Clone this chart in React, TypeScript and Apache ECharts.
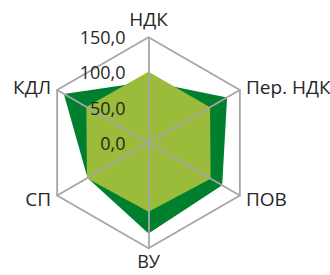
import React, { useEffect, useRef } from "react";
import * as echarts from "echarts";

// Categories listed clockwise starting at the top, as in the reference
const categories = ["НДК", "Пер. НДК", "ПОВ", "ВУ", "СП", "КДЛ"];
const seriesDark = [87, 129, 121, 129, 100, 139];
const seriesLight = [101, 101, 102, 98, 101, 102];
const tickValues = [0, 50, 100, 150];
const tickLabels = ["0,0", "50,0", "100,0", "150,0"];

const FONT = "'Open Sans', 'DejaVu Sans', sans-serif";
const TEXT = "#262626";

// ECharts places radar indicators counter-clockwise; reorder to keep clockwise layout
function toCCW<T>(arr: T[]): T[] {
  return [arr[0], ...arr.slice(1).reverse()];
}

export default function App() {
  const ref = useRef<HTMLDivElement>(null);
  useEffect(() => {
    if (!ref.current) return;
    const chart = echarts.init(ref.current, null, { renderer: "svg" });
    const names = toCCW(categories);
    const bottomName = categories[3];
    const indicator = names.map((n, i) => {
      const base: any = { name: n, min: 0, max: 150 };
      if (i === 0) {
        base.axisLabel = {
          show: true,
          margin: 23,
          fontSize: 18,
          fontFamily: FONT,
          color: TEXT,
          formatter: (v: number) => {
            const k = tickValues.indexOf(v);
            return k >= 0 ? tickLabels[k] : "";
          },
        };
      }
      return base;
    });
    chart.setOption({
      animation: false,
      radar: {
        z: 5,
        center: [148.5, 142.8],
        radius: 105.5,
        startAngle: 90,
        splitNumber: 3,
        shape: "polygon",
        indicator,
        nameGap: 7,
        axisName: {
          color: TEXT,
          fontSize: 19,
          fontFamily: FONT,
          formatter: (name: string) => (name === bottomName ? `{b|${name}}` : name),
          rich: {
            b: {
              color: TEXT,
              fontSize: 18,
              fontFamily: FONT,
              lineHeight: 12,
              padding: [0, 0, 0, 0],
            },
          },
        },
        axisLabel: { show: false },
        axisTick: { show: false },
        axisLine: { show: true, lineStyle: { color: "#A6A6A6", width: 1.8 } },
        splitLine: {
          show: true,
          lineStyle: {
            color: ["transparent", "transparent", "transparent", "#A6A6A6"],
            width: 1.8,
          },
        },
        splitArea: { show: false },
      },
      series: [
        {
          type: "radar",
          z: 2,
          symbol: "none",
          lineStyle: { width: 0 },
          data: [
            {
              value: toCCW(seriesDark),
              itemStyle: { color: "#00802F" },
              areaStyle: { color: "#00802F", opacity: 1 },
            },
            {
              value: toCCW(seriesLight),
              itemStyle: { color: "#9BBB3B" },
              areaStyle: { color: "#9BBB3B", opacity: 1 },
            },
          ],
        },
      ],
    });
    return () => chart.dispose();
  }, []);
  return (
    <div
      ref={ref}
      style={{ position: "absolute", left: 0, top: 0, width: 330, height: 275 }}
    />
  );
}
